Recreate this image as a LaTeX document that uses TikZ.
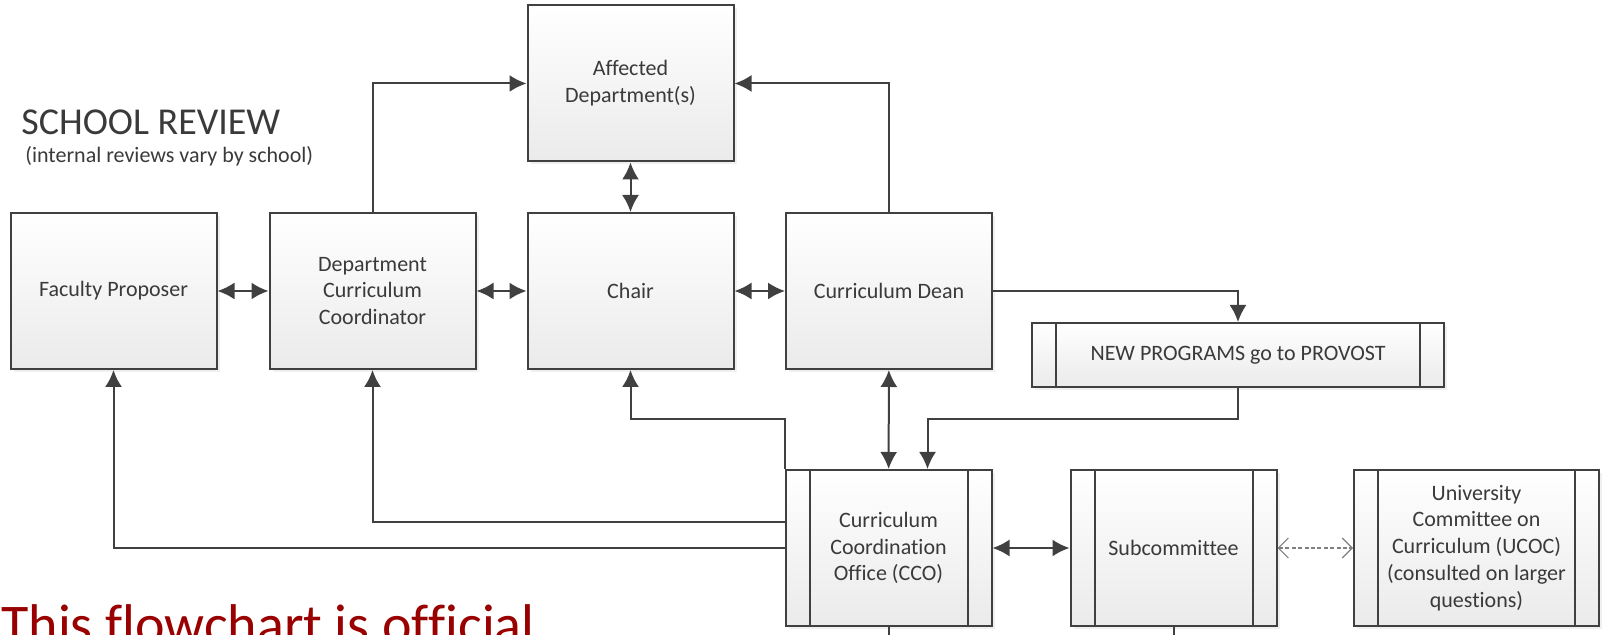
\documentclass[tikz,border=0pt]{standalone}
\usepackage{fontspec}
\setmainfont{Carlito}[Ligatures=NoCommon]
\usetikzlibrary{arrows.meta,shadows}
\definecolor{linegray}{RGB}{64,64,64}
\definecolor{txtgray}{RGB}{58,58,58}
\definecolor{darkred}{RGB}{153,0,0}

\begin{document}
\begin{tikzpicture}[x=0.5pt,y=-0.5pt,
    >={Latex[length=8.5pt,width=8.5pt]},
    box/.style={draw=linegray,line width=1pt,top color=white,bottom color=black!8,
      drop shadow={opacity=0.12,shadow xshift=1.5pt,shadow yshift=-1.5pt},
      minimum width=103pt,minimum height=78pt,inner sep=0pt,align=center,
      text=txtgray,font=\fontsize{11}{13.4}\selectfont},
    link/.style={draw=linegray,line width=1pt},
    maybe/.style={draw=gray,line width=0.6pt,dash pattern=on 2pt off 1.2pt,
      {Straight Barb[length=5pt,width=10pt]}-{Straight Barb[length=5pt,width=10pt]}}]
            \useasboundingbox (0,0) rectangle (1602,635);
            \clip (0,0) rectangle (1602,635);

            \node[anchor=base west,inner sep=0pt,text=txtgray,font=\fontsize{19}{23}\selectfont] (title) at (21,135) {SCHOOL REVIEW};
            \node[anchor=base west,inner sep=0pt,text=txtgray,font=\fontsize{11}{13.4}\selectfont] (subtitle) at (25,163) {(internal reviews vary by school)};
            \node[anchor=base west,inner sep=0pt,text=darkred,font=\fontsize{28}{34}\selectfont] (note) at (1,644) {This flowchart is official};

            \node[box] (aff) at (630.5,83.5) {Affected\\Department(s)};
            \node[box] (fp) at (113.5,291) {Faculty Proposer};
            \node[box] (dcc) at (372.5,291) {Department\\Curriculum\\Coordinator};
            \node[box] (chair) at (630.5,291) {Chair};
            \node[box] (dean) at (889,291) {Curriculum Dean};
            \node[box,minimum width=206pt,minimum height=32pt] (prov) at (1238,355) {NEW PROGRAMS go to PROVOST};
            \node[box] (cco) at (888.5,548) {Curriculum\\Coordination\\Office (CCO)};
            \node[box] (sub) at (1173.5,548) {Subcommittee};
            \node[box,minimum width=122.5pt] (ucoc) at (1476.5,548) {University\\Committee on\\Curriculum (UCOC)\\(consulted on larger\\questions)};

            \foreach \n in {prov,cco,sub,ucoc}
                \draw[link] ([xshift=12.5pt]\n.north west) -- ([xshift=12.5pt]\n.south west)
                            ([xshift=-12.5pt]\n.north east) -- ([xshift=-12.5pt]\n.south east);

            \coordinate (split) at (0,419);
            \coordinate (ccoend) at (888.5,650);
            \coordinate (subend) at (1173.5,650);

            \draw[link,<->] (fp) -- (dcc);
            \draw[link,<->] (dcc) -- (chair);
            \draw[link,<->] (chair) -- (dean);
            \draw[link,<->] (aff) -- (chair);
            \draw[link,->] (dcc.north) |- (aff.west);
            \draw[link,->] (dean.north) |- (aff.east);
            \draw[link,->] (dean.east) -| (prov.north);
            \draw[link,->] (prov.south) -- (prov.south |- split) -| ([xshift=19.5pt]cco.north);
            \draw[link,<->] (dean) -- (cco);
            \draw[link,->] (cco.north west) -- (cco.north west |- split) -| (chair.south);
            \draw[link,->] ([yshift=13pt]cco.west) -| (dcc.south);
            \draw[link,->] (cco.west) -| (fp.south);
            \draw[link,<->] (cco) -- (sub);
            \draw[maybe] (sub) -- (ucoc);
            \draw[link] (cco.south) -- (ccoend);
            \draw[link] (sub.south) -- (subend);
        \end{tikzpicture}
\end{document}
